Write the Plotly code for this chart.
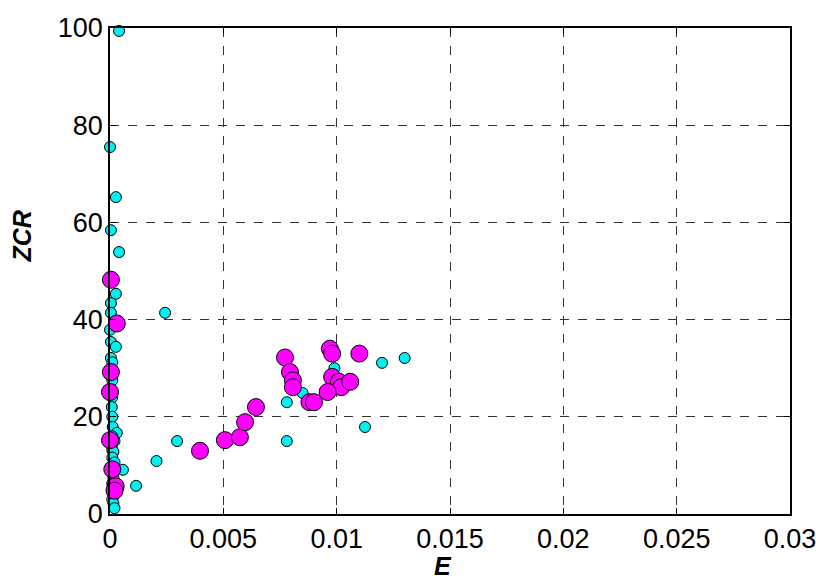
import plotly.graph_objects as go

# Class 1 (cyan): short-time energy E and zero-crossing rate ZCR per frame
e_class1 = [
    0.0004, 0.0000, 0.00026, 0.00004, 0.0004, 0.00026, 0.00004, 0.00004,
    0.0000, 0.00004, 0.00026, 0.00004, 0.0001, 0.00004, 0.0001, 0.00004,
    0.0001, 0.00008, 0.0001, 0.00012, 0.0003, 0.0001, 0.0002, 0.00008,
    0.0001, 0.00015, 0.0001, 0.0002, 0.00008, 0.0001, 0.00015, 0.0001,
    0.00008, 0.0002, 0.0001, 0.00015, 0.0002,
    0.00243, 0.00296, 0.00205, 0.00057, 0.00115,
    0.0078, 0.0085, 0.0078, 0.0099, 0.0120, 0.0130, 0.01125,
]
zcr_class1 = [
    99.4, 75.5, 65.2, 58.4, 53.9, 45.3, 43.4, 41.4,
    37.9, 35.4, 34.4, 32.1, 31.2, 29.5, 27.5, 25.6,
    24.0, 22.0, 20.0, 17.9, 16.7, 16.0, 15.0, 14.2,
    13.2, 12.8, 11.6, 10.6, 9.6, 8.6, 7.5, 6.3,
    5.0, 4.0, 3.0, 2.2, 1.2,
    41.4, 15.0, 10.9, 9.1, 5.8,
    23.0, 24.9, 15.0, 30.0, 31.1, 32.1, 17.9,
]

# Class 2 (magenta)
e_class2 = [
    0.00004, 0.0003, 0.00004, 0.0000, 0.0000, 0.0001, 0.00025, 0.0002,
    0.00397, 0.00507, 0.00573, 0.00596, 0.00644,
    0.00772, 0.00794, 0.00807, 0.00807, 0.0088, 0.0090,
    0.0097, 0.0098, 0.0110, 0.0098, 0.0101, 0.0102, 0.0106, 0.0096,
]
zcr_class2 = [
    48.2, 39.2, 29.2, 25.1, 15.2, 9.2, 5.7, 4.8,
    13.0, 15.2, 15.8, 18.9, 22.0,
    32.2, 29.2, 27.5, 26.1, 23.0, 23.0,
    34.0, 33.0, 33.0, 28.2, 27.2, 26.1, 27.2, 25.1,
]

x_ticks = [0, 0.005, 0.01, 0.015, 0.02, 0.025, 0.03]
x_tick_labels = ["0", "0.005", "0.01", "0.015", "0.02", "0.025", "0.03"]
y_ticks = [0, 20, 40, 60, 80, 100]

fig = go.Figure()

fig.add_trace(go.Scatter(
    x=e_class1, y=zcr_class1, mode="markers",
    marker=dict(size=11, color="#00f0f0", line=dict(color="black", width=1)),
    showlegend=False, cliponaxis=False,
))
fig.add_trace(go.Scatter(
    x=e_class2, y=zcr_class2, mode="markers",
    marker=dict(size=17, color="#ff00ff", line=dict(color="black", width=1)),
    showlegend=False, cliponaxis=False,
))

axis_common = dict(
    showline=True, linecolor="black", linewidth=1.5, mirror="ticks",
    ticks="inside", ticklen=6, tickcolor="black",
    showgrid=True, gridcolor="#333333", gridwidth=1, griddash="dash",
    zeroline=False, automargin=False, ticklabeloverflow="allow",
    tickfont=dict(family="Liberation Sans, Arial, sans-serif", size=27, color="black"),
)

fig.update_xaxes(range=[0, 0.03], tickvals=x_ticks, ticktext=x_tick_labels, **axis_common)
fig.update_yaxes(range=[0, 100], tickvals=y_ticks, **axis_common)

label_font = dict(family="Liberation Sans, Arial, sans-serif", size=25, color="black")
fig.add_annotation(
    text="<b><i>E</i></b>", xref="paper", yref="paper", x=0.49, y=-0.107,
    xanchor="center", yanchor="middle", showarrow=False, font=label_font,
)
fig.add_annotation(
    text="<b><i>ZCR</i></b>", xref="paper", yref="paper", x=-0.13, y=0.57,
    xanchor="center", yanchor="middle", textangle=-90, showarrow=False, font=label_font,
)

fig.update_layout(
    width=816, height=579,
    margin=dict(l=110, r=26, t=28, b=65),
    paper_bgcolor="white", plot_bgcolor="white",
)

fig.write_html("out.html")
